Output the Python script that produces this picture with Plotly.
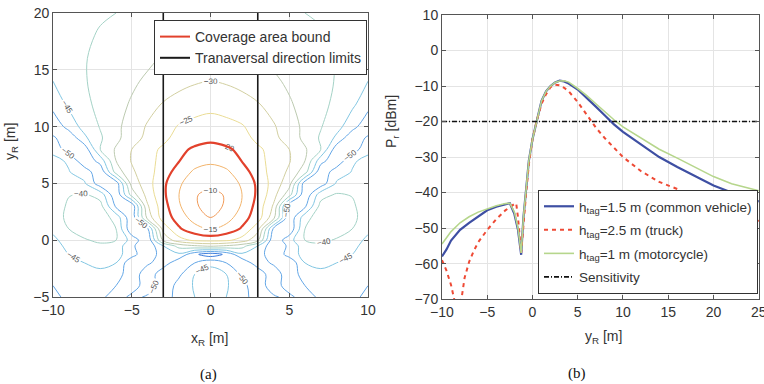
import plotly.graph_objects as go

# ---------------- Panel (a): received power map (h_tag = 1.5 m), half plane x_R >= 0 ----------------
x_half = [0, 1, 2, 3, 4, 5, 6, 7, 8, 9, 10]
y_rows = [-5, -4, -3, -2, -1.25, -0.5, 0, 1, 2, 3, 4, 5, 6, 7, 8, 9, 10, 12, 14, 16, 18, 20]
z_half = [
    [-44.5, -45.0, -47.0, -54.0, -51.0, -48.0, -54.0, -48.0, -48.0, -49.0, -51.0],
    [-44.0, -44.5, -48.0, -54.0, -46.0, -54.0, -50.0, -46.5, -47.0, -48.0, -50.0],
    [-43.2, -45.0, -51.0, -54.0, -46.0, -54.0, -47.0, -45.5, -46.0, -47.0, -49.0],
    [-46.0, -50.0, -54.0, -47.0, -51.0, -54.0, -45.0, -44.5, -45.0, -46.0, -48.0],
    [-58.0, -54.0, -46.0, -47.0, -54.0, -48.0, -43.0, -42.5, -43.5, -45.0, -47.0],
    [-34.0, -35.5, -38.0, -45.0, -54.0, -49.0, -42.0, -41.0, -42.0, -44.0, -46.5],
    [-23.5, -24.0, -27.0, -34.0, -54.0, -47.0, -40.0, -39.0, -40.5, -43.0, -46.0],
    [-14.2, -17.0, -20.6, -28.1, -51.0, -54.0, -40.0, -37.1, -37.5, -40.0, -44.0],
    [-10.0, -12.5, -18.0, -22.5, -33.0, -54.0, -42.0, -37.0, -36.5, -38.5, -43.0],
    [-8.5, -10.5, -15.6, -22.0, -30.6, -54.0, -51.0, -38.3, -37.5, -39.0, -43.5],
    [-9.3, -10.2, -15.0, -21.0, -28.1, -38.0, -54.0, -42.0, -39.4, -40.3, -44.0],
    [-11.0, -11.8, -15.8, -21.0, -27.0, -33.0, -53.0, -53.0, -44.5, -43.3, -44.7],
    [-13.3, -14.2, -17.5, -22.7, -26.8, -30.9, -38.0, -54.0, -47.0, -44.8, -44.6],
    [-15.8, -16.9, -20.2, -24.0, -26.1, -29.6, -35.0, -48.0, -54.0, -45.5, -44.0],
    [-18.8, -19.4, -20.9, -24.3, -26.4, -30.0, -34.4, -40.0, -53.0, -53.0, -46.0],
    [-20.8, -21.5, -23.5, -26.0, -28.9, -31.9, -36.4, -40.6, -46.0, -54.0, -49.0],
    [-22.9, -23.5, -24.6, -27.0, -29.5, -32.7, -36.2, -39.7, -43.2, -48.0, -54.0],
    [-26.5, -27.2, -28.2, -29.7, -31.9, -34.5, -36.6, -38.7, -41.1, -44.0, -48.0],
    [-30.0, -30.5, -31.5, -33.0, -34.2, -35.8, -37.2, -38.6, -40.3, -42.4, -45.0],
    [-32.8, -33.0, -33.5, -34.5, -36.0, -36.9, -38.0, -39.1, -40.2, -41.9, -43.8],
    [-35.4, -35.5, -35.8, -36.5, -37.5, -38.1, -38.8, -39.6, -40.7, -41.9, -43.2],
    [-37.6, -37.7, -38.0, -38.5, -39.0, -39.5, -40.0, -40.5, -41.5, -42.5, -43.5],
]
coverage_level = -20
lane_limits = [-3, 3]

# ---------------- Panel (b): received power along x_R = 0 ----------------
yr_blue = [-10, -9.5, -9, -8, -7, -6, -5, -4, -3, -2.5, -2, -1.6, -1.25, -1.0, -0.7, -0.4, 0, 0.5, 1, 1.5,
           2, 2.5, 3, 3.5, 4, 5, 6, 7, 8, 9, 10, 12, 14, 16, 18, 20, 22, 25]
p_blue = [-58, -56, -53.5, -50.5, -48.5, -46.8, -45, -44, -43.2, -43, -46, -50.5, -57.5, -47, -39, -31, -25,
          -19.5, -14.2, -11.5, -10, -9, -8.5, -8.7, -9.3, -11, -13.3, -15.8, -18.3, -20.8, -22.9, -26.5,
          -30, -32.8, -35.4, -38, -40, -42.5]

yr_red = [-10, -9.5, -9, -8.65, -8.25, -7.85, -7.5, -7, -6.5, -6, -5, -4, -3, -2.5, -2, -1.8, -1.6, -1.25,
          -1.0, -0.7, -0.4, 0, 0.5, 1, 1.5, 2, 2.5, 3, 3.5, 4, 5, 6, 6.5, 7, 8, 9, 10, 12, 14, 16, 18, 20,
          22, 25]
p_red = [-59, -62, -66, -70, -85, -70, -64, -59.5, -56.5, -54, -50.5, -47.5, -45, -44, -43.2, -43, -47,
         -57, -48, -40, -32, -25, -19.5, -15, -12.3, -10.3, -9.6, -9.8, -10.5, -11.5, -14.5, -18, -20,
         -21.7, -24.7, -27.5, -30, -34, -37, -39, -42, -44, -46, -48]

yr_green = [-10, -9, -8, -7, -6, -5, -4, -3, -2.5, -2, -1.6, -1.25, -1.0, -0.7, -0.4, 0, 0.5, 1, 1.5, 2,
            2.5, 3, 3.5, 4, 5, 6, 7, 8, 9, 10, 12, 14, 16, 18, 20, 22, 25]
p_green = [-54.5, -51, -48.5, -46.8, -45.5, -44.5, -43.7, -43.1, -43, -45.5, -50, -57, -47, -39, -31,
           -25, -19.5, -14.2, -11.5, -10, -9, -8.6, -8.5, -8.9, -10.7, -12.7, -15, -17.3, -19.5, -21.5,
           -24.7, -27.8, -30.3, -33, -35.5, -37.5, -39.5]

sens_y = [-10, 25]
sensitivity = -20

# ---------------- build full (symmetric) grid for panel (a) ----------------
x_full = [-v for v in reversed(x_half[1:])] + x_half
z_full = [row[:0:-1] + row for row in z_half]

FONT = "Liberation Sans"
cscale = [[0.0, '#2a58c4'], [0.1, '#3f7fdc'], [0.2, '#63a6e6'], [0.3, '#82c6e2'],
          [0.4, '#a4d2c6'], [0.5, '#bccab0'], [0.6, '#d2cfa0'], [0.7, '#eadc94'],
          [0.8, '#f0cc7c'], [0.9, '#f2b46c'], [1.0, '#f09a58']]

fig = go.Figure()

fig.add_trace(go.Contour(
    x=x_full, y=y_rows, z=z_full, xaxis='x', yaxis='y',
    colorscale=cscale, zauto=False, zmin=-60, zmax=-10, showscale=False,
    contours=dict(start=-60, end=-10, size=5, coloring='lines', showlabels=True,
                  labelfont=dict(size=8, color='#555555', family=FONT)),
    line=dict(width=1, smoothing=1.0), hoverinfo='skip', showlegend=False))

fig.add_trace(go.Contour(
    x=x_full, y=y_rows, z=z_full, xaxis='x', yaxis='y', showscale=False,
    contours=dict(start=coverage_level, end=coverage_level, size=1, coloring='none'),
    line=dict(width=2.2, color='#e2412c', smoothing=1.0), hoverinfo='skip', showlegend=False))

for xv in lane_limits:
    fig.add_trace(go.Scatter(x=[xv, xv], y=[y_rows[0], y_rows[-1]], xaxis='x', yaxis='y',
                             mode='lines', line=dict(color='#1a1a1a', width=1.6),
                             showlegend=False, hoverinfo='skip'))

# legend entries for panel (a)
fig.add_trace(go.Scatter(x=[None], y=[None], xaxis='x', yaxis='y', mode='lines',
                         line=dict(color='#e2412c', width=2), name='Coverage area bound',
                         legend='legend', legendgroup='a1'))
fig.add_trace(go.Scatter(x=[None], y=[None], xaxis='x', yaxis='y', mode='lines',
                         line=dict(color='#1a1a1a', width=2), name='Tranaversal direction limits',
                         legend='legend', legendgroup='a2'))

# panel (b)
fig.add_trace(go.Scatter(x=yr_blue, y=p_blue, xaxis='x2', yaxis='y2', mode='lines',
                         line=dict(color='#3e4fa3', width=2.2), legendgroup='b1',
                         name='h<sub>tag</sub>=1.5 m (common vehicle)', legend='legend2'))
fig.add_trace(go.Scatter(x=yr_red, y=p_red, xaxis='x2', yaxis='y2', mode='lines',
                         line=dict(color='#ee4a35', width=2, dash='4px,4px'), legendgroup='b2',
                         name='h<sub>tag</sub>=2.5 m (truck)', legend='legend2'))
fig.add_trace(go.Scatter(x=yr_green, y=p_green, xaxis='x2', yaxis='y2', mode='lines',
                         line=dict(color='#b6d68c', width=1.6), legendgroup='b3',
                         name='h<sub>tag</sub>=1 m (motorcycle)', legend='legend2'))
fig.add_trace(go.Scatter(x=sens_y, y=[sensitivity, sensitivity], xaxis='x2', yaxis='y2', mode='lines',
                         line=dict(color='#111111', width=1.6, dash='5px,2px,1px,2px'), legendgroup='b4',
                         name='Sensitivity', legend='legend2'))

axis_common = dict(showline=True, linecolor='#555555', linewidth=1, mirror='ticks', ticks='inside',
                   ticklen=4, tickcolor='#555555', showgrid=True, gridcolor='#e4e4e4', zeroline=False,
                   automargin=False, ticklabeloverflow='allow',
                   tickfont=dict(family=FONT, size=14, color='#333333'))

ann = dict(xref='paper', yref='paper', showarrow=False, xanchor='center', yanchor='middle')

fig.update_layout(
    width=764, height=384, margin=dict(l=0, r=0, t=0, b=0, autoexpand=False),
    paper_bgcolor='white', plot_bgcolor='white',
    font=dict(family=FONT, size=14, color='#333333'),
    xaxis=dict(domain=[0.0694, 0.4817], range=[-10, 10], dtick=5, anchor='y', **axis_common),
    yaxis=dict(domain=[0.2266, 0.966], range=[-5, 20], dtick=5, anchor='x', **axis_common),
    xaxis2=dict(domain=[0.5785, 0.9935], range=[-10, 25.03], dtick=5, anchor='y2', **axis_common),
    yaxis2=dict(domain=[0.221, 0.961], range=[-70, 10], dtick=10, anchor='x2', **axis_common),
    legend=dict(x=367 / 764, y=1 - 20 / 384, xanchor='right', yanchor='top', bgcolor='white',
                bordercolor='#333333', borderwidth=1, itemwidth=30, tracegroupgap=0,
                font=dict(family=FONT, size=14, color='#333333')),
    legend2=dict(x=758 / 764, y=1 - 190 / 384, xanchor='right', yanchor='top', bgcolor='white',
                 bordercolor='#333333', borderwidth=1, itemwidth=30, tracegroupgap=3,
                 font=dict(family=FONT, size=13.5, color='#333333')),
    annotations=[
        dict(text='x<sub>R</sub> [m]', x=209 / 764, y=1 - 339 / 384, font=dict(size=14), **ann),
        dict(text='y<sub>R</sub> [m]', x=11 / 764, y=1 - 142 / 384, textangle=-90,
             font=dict(size=14), **ann),
        dict(text='y<sub>R</sub> [m]', x=603 / 764, y=1 - 337 / 384, font=dict(size=14), **ann),
        dict(text='P<sub>r</sub> [dBm]', x=392 / 764, y=1 - 122 / 384, textangle=-90,
             font=dict(size=14), **ann),
        dict(text='(a)', x=208 / 764, y=1 - 374 / 384,
             font=dict(family='Liberation Serif', size=15, color='#111111'), **ann),
        dict(text='(b)', x=577 / 764, y=1 - 373 / 384,
             font=dict(family='Liberation Serif', size=15, color='#111111'), **ann),
    ],
)

fig.write_html("out.html", config={'displayModeBar': False},
               post_script="document.body.style.margin='0px';document.body.style.overflow='hidden';")
